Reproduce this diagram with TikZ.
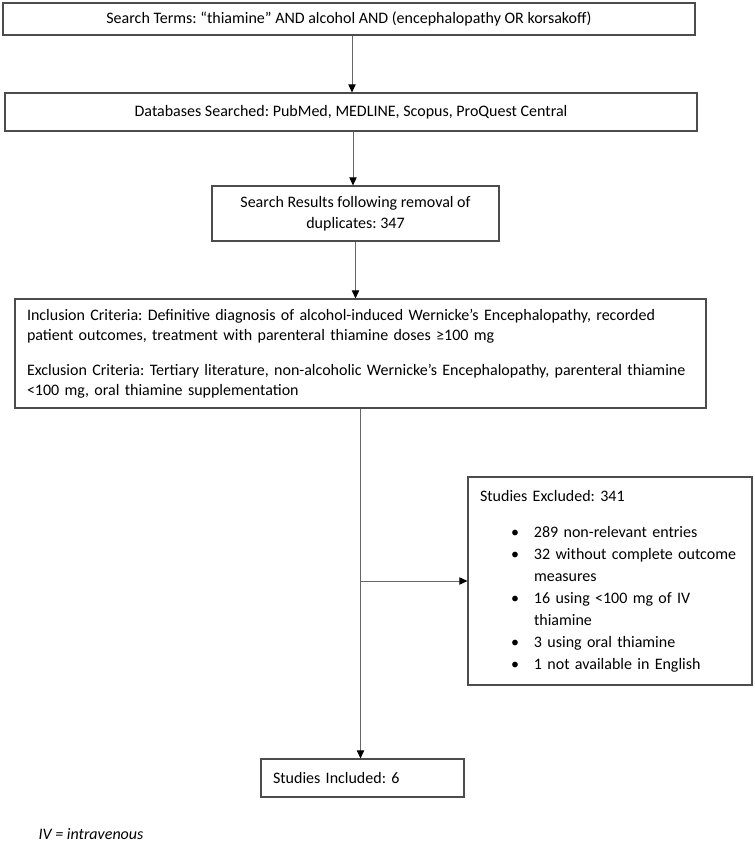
\documentclass[tikz,border=0pt]{standalone}
\usepackage{fontspec}
\setmainfont{Carlito}
\frenchspacing
\usetikzlibrary{positioning,arrows.meta}

\begin{document}
\begin{tikzpicture}[x=0.75pt, y=-0.75pt,
        every node/.style = {draw=black!70, line width=0.9pt, rectangle, inner sep=0pt,
          font=\fontsize{12}{15.5}\selectfont},
        textbox/.style = {align=left, inner xsep=9pt, text width=#1},
        flow/.style = {draw=black!60, line width=0.6pt, -{Triangle[width=5.5pt, length=6pt, color=black]}}
        ]
        \useasboundingbox (0,0) rectangle (755,842);
        \node (terms) [minimum width=519pt, minimum height=24pt] at (349,19)
          {Search Terms: “thiamine” AND alcohol AND (encephalopathy OR korsakoff)};
        \node (dbs) [minimum width=519pt, minimum height=28.5pt] at (351,112)
          {Databases Searched: PubMed, MEDLINE, Scopus, ProQuest Central};
        \node (results) [minimum width=215.25pt, minimum height=41.25pt, align=center] at (355.5,213.5)
          {Search Results following removal of\\duplicates: 347};
        \node (criteria) [textbox=500.25pt, minimum height=81.75pt,
          font=\fontsize{12}{15}\selectfont] at (360.5,353.5)
          {Inclusion Criteria: Definitive diagnosis of alcohol-induced Wernicke’s Encephalopathy, recorded\\
           patient outcomes, treatment with parenteral thiamine doses ≥100 mg\\[11.25pt]
           Exclusion Criteria: Tertiary literature, non-alcoholic Wernicke’s Encephalopathy, parenteral thiamine\\
           <100 mg, oral thiamine supplementation};
        \node (excluded) [textbox=195pt, minimum height=156pt,
          font=\fontsize{12}{16.5}\selectfont] at (610,581)
          {Studies Excluded: 341\\[10.5pt]
           \hspace*{23.25pt}\makebox[17.25pt][l]{\textbullet}289 non-relevant entries\\
           \hspace*{23.25pt}\makebox[17.25pt][l]{\textbullet}32 without complete outcome\\
           \hspace*{40.5pt}measures\\
           \hspace*{23.25pt}\makebox[17.25pt][l]{\textbullet}16 using <100 mg of IV\\
           \hspace*{40.5pt}thiamine\\
           \hspace*{23.25pt}\makebox[17.25pt][l]{\textbullet}3 using oral thiamine\\
           \hspace*{23.25pt}\makebox[17.25pt][l]{\textbullet}1 not available in English};
        \node (included) [textbox=134.25pt, minimum height=28.5pt] at (362.5,778)
          {Studies Included: 6};
        \node (note) [draw=none, anchor=west, font=\fontsize{12}{15}\selectfont\itshape] at (38,834)
          {IV = intravenous};
        \coordinate (split) at (criteria.south |- excluded.west);
        \draw[flow] (terms.south -| 352,0) -- (dbs.north -| 352,0);
        \draw[flow] (dbs.south -| 353,0) -- (results.north -| 353,0);
        \draw[flow] (results.south) -- (results.south |- criteria.north);
        \draw[flow] (criteria.south) -- (criteria.south |- included.north);
        \draw[flow] (split) -- (excluded.west);
\end{tikzpicture}
\end{document}
